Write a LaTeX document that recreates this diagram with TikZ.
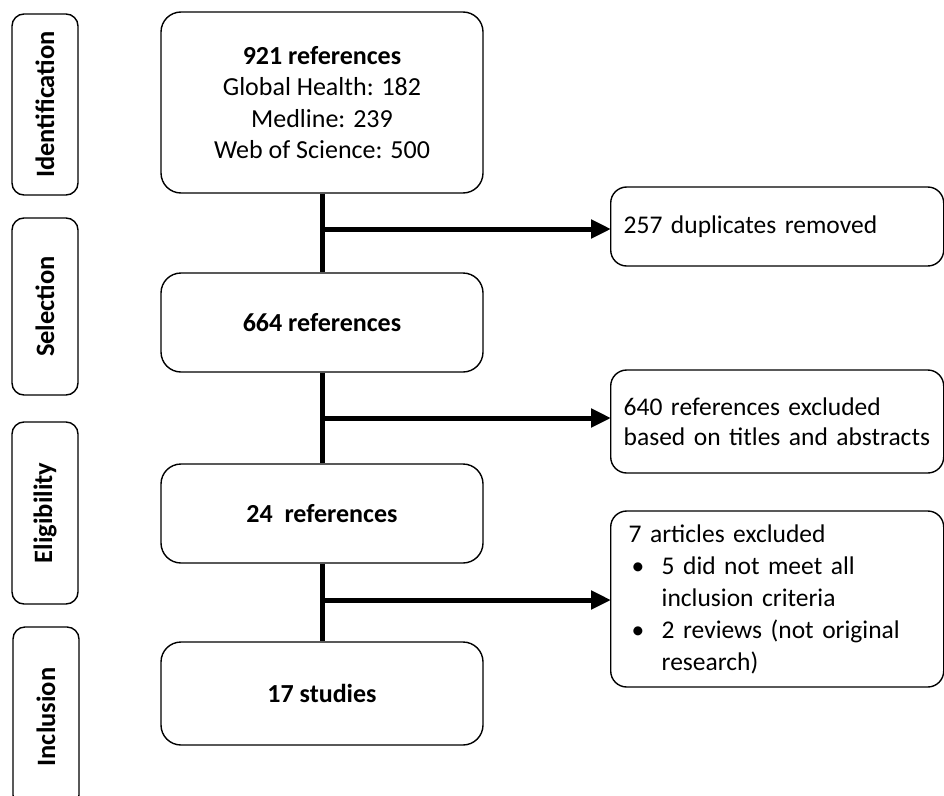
\documentclass[tikz,border=0pt]{standalone}
\usepackage{fontspec}
\setmainfont{Carlito}
\usetikzlibrary{arrows.meta}

\begin{document}
\begin{tikzpicture}[x=1pt,y=-1pt,
  stage/.style={draw, line width=1.4pt, rounded corners=12pt, fill=white,
    rotate=90, minimum height=66pt, inner sep=0pt,
    font=\fontsize{26.5}{30}\selectfont\bfseries},
  mainbox/.style={draw, line width=1.4pt, rounded corners=20pt, fill=white,
    minimum width=322pt, inner sep=0pt, align=center},
  sidebox/.style={draw, line width=1.4pt, rounded corners=16pt, fill=white,
    minimum width=333pt, inner sep=0pt, align=left, anchor=west},
  flow/.style={line width=5pt},
  branch/.style={line width=5pt, -{Triangle[length=20pt,width=18pt]}, shorten >=-1pt}
]
\useasboundingbox (0,0) rectangle (944,795);
\begin{scope}
\clip (0,0) rectangle (944,795);

% stage labels on the left
\node[stage, minimum width=181pt] (sid) at (45,104.5) {Identification};
\node[stage, minimum width=177pt] (ssel) at (45,306.5) {Selection};
\node[stage, minimum width=182pt] (selig) at (45,513) {Eligibility};
\node[stage, minimum width=180pt] (sinc) at (46,717) {Inclusion};

% main flow boxes
\node[mainbox, minimum height=181pt, font=\fontsize{26}{31.5}\selectfont] (b1) at (322,102.5)
  {\textbf{921 references}\\ Global Health: 182\\ Medline: 239\\ Web of Science: 500};
\node[mainbox, minimum height=99pt, font=\fontsize{26}{30}\selectfont\bfseries] (b2) at (322,322.5) {664 references};
\node[mainbox, minimum height=99pt, font=\fontsize{26}{30}\selectfont\bfseries] (b3) at (322,513.5) {24\ \ references};
\node[mainbox, minimum height=103pt, font=\fontsize{26}{30}\selectfont\bfseries] (b4) at (322,693.5) {17 studies};

% exclusion boxes on the right
\node[sidebox, minimum height=79pt, inner xsep=13pt, text width=307pt, font=\fontsize{25.5}{30}\selectfont] (r1) at (610,226.5)
  {257 duplicates removed};
\node[sidebox, minimum height=103pt, inner xsep=13pt, text width=307pt, font=\fontsize{25.5}{30}\selectfont] (r2) at (610,421.5)
  {640 references excluded\\ based on titles and abstracts};
\node[sidebox, minimum height=176pt, inner xsep=18pt, text width=297pt, font=\fontsize{25.5}{32}\selectfont] (r3) at (610,599)
  {7 articles excluded\\
   \makebox[33pt][l]{\hspace*{3pt}\textbullet}5 did not meet all\\
   \hspace*{33pt}inclusion criteria\\
   \makebox[33pt][l]{\hspace*{3pt}\textbullet}2 reviews (not original\\
   \hspace*{33pt}research)};

% vertical flow
\draw[flow] (b1) -- (b2);
\draw[flow] (b2) -- (b3);
\draw[flow] (b3) -- (b4);

% branches to the exclusion boxes
\coordinate (j1) at (322,229);
\coordinate (j2) at (322,418);
\coordinate (j3) at (322,600);
\draw[branch] (j1) -- (j1 -| r1.west);
\draw[branch] (j2) -- (j2 -| r2.west);
\draw[branch] (j3) -- (j3 -| r3.west);
\end{scope}
\end{tikzpicture}
\end{document}
